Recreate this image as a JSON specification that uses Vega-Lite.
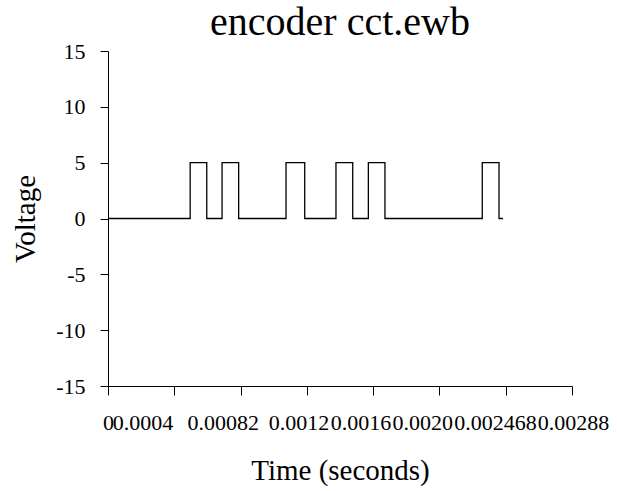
{
  "$schema": "https://vega.github.io/schema/vega-lite/v6.json",
  "width": 464,
  "height": 335,
  "autosize": "none",
  "padding": {"left": 108, "top": 51, "right": 45, "bottom": 105},
  "background": "white",
  "title": {
    "text": "encoder cct.ewb",
    "font": "Liberation Serif",
    "fontSize": 40,
    "fontWeight": "normal",
    "color": "black",
    "anchor": "middle",
    "frame": "group",
    "baseline": "alphabetic",
    "offset": -35
  },
  "data": {
    "values": [
      {"i": 0, "t": 0, "v": 0},
      {"i": 1, "t": 0.00051, "v": 0},
      {"i": 2, "t": 0.00051, "v": 5},
      {"i": 3, "t": 0.000613, "v": 5},
      {"i": 4, "t": 0.000613, "v": 0},
      {"i": 5, "t": 0.000708, "v": 0},
      {"i": 6, "t": 0.000708, "v": 5},
      {"i": 7, "t": 0.000811, "v": 5},
      {"i": 8, "t": 0.000811, "v": 0},
      {"i": 9, "t": 0.001105, "v": 0},
      {"i": 10, "t": 0.001105, "v": 5},
      {"i": 11, "t": 0.001221, "v": 5},
      {"i": 12, "t": 0.001221, "v": 0},
      {"i": 13, "t": 0.001415, "v": 0},
      {"i": 14, "t": 0.001415, "v": 5},
      {"i": 15, "t": 0.001519, "v": 5},
      {"i": 16, "t": 0.001519, "v": 0},
      {"i": 17, "t": 0.001616, "v": 0},
      {"i": 18, "t": 0.001616, "v": 5},
      {"i": 19, "t": 0.001719, "v": 5},
      {"i": 20, "t": 0.001719, "v": 0},
      {"i": 21, "t": 0.002323, "v": 0},
      {"i": 22, "t": 0.002323, "v": 5},
      {"i": 23, "t": 0.002427, "v": 5},
      {"i": 24, "t": 0.002427, "v": 0},
      {"i": 25, "t": 0.002452, "v": 0}
    ]
  },
  "mark": {"type": "line", "color": "black", "strokeWidth": 1.3},
  "encoding": {
    "x": {
      "field": "t",
      "type": "quantitative",
      "scale": {"domain": [0, 0.00288], "nice": false, "zero": false},
      "axis": {
        "values": [0, 0.000411429, 0.000822857, 0.001234286, 0.001645714, 0.002057143, 0.002468571, 0.00288],
        "labelExpr": "datum.value < 0.0002 ? '0' : datum.value < 0.0006 ? '0.0004' : datum.value < 0.001 ? '0.00082' : datum.value < 0.0014 ? '0.0012' : datum.value < 0.0018 ? '0.0016' : datum.value < 0.0022 ? '0.0020' : datum.value < 0.0027 ? '0.002468' : '0.00288'",
        "labelAlign": "left",
        "labelOffset": {
          "condition": [
            {"test": "datum.value < 0.0002", "value": -5.5},
            {"test": "datum.value < 0.0006", "value": -62},
            {"test": "datum.value < 0.001", "value": -53.5},
            {"test": "datum.value < 0.0014", "value": -38.6},
            {"test": "datum.value < 0.0018", "value": -43},
            {"test": "datum.value < 0.0022", "value": -47.5},
            {"test": "datum.value < 0.0027", "value": -52}
          ],
          "value": -34.8
        },
        "labelFont": "Liberation Serif",
        "labelFontSize": 22,
        "labelColor": "black",
        "labelBaseline": "alphabetic",
        "labelPadding": 34,
        "labelOverlap": false,
        "labelFlush": false,
        "tickSize": 9,
        "tickColor": "black",
        "domainColor": "black",
        "grid": false,
        "title": "Time (seconds)",
        "titleFont": "Liberation Serif",
        "titleFontSize": 29,
        "titleFontWeight": "normal",
        "titleColor": "black",
        "titleX": 232,
        "titleY": 93,
        "titleBaseline": "alphabetic",
        "titleAlign": "center"
      }
    },
    "y": {
      "field": "v",
      "type": "quantitative",
      "scale": {"domain": [-15, 15], "nice": false},
      "axis": {
        "values": [-15, -10, -5, 0, 5, 10, 15],
        "labelExpr": "datum.value < 0 ? '-' + abs(datum.value) : '' + datum.value",
        "labelFont": "Liberation Serif",
        "labelFontSize": 22,
        "labelColor": "black",
        "labelPadding": 15,
        "labelBaseline": "middle",
        "labelFlush": false,
        "labelOverlap": false,
        "tickSize": 8,
        "tickColor": "black",
        "domainColor": "black",
        "grid": false,
        "title": "Voltage",
        "titleFont": "Liberation Serif",
        "titleFontSize": 29,
        "titleFontWeight": "normal",
        "titleColor": "black",
        "titleX": -74,
        "titleY": 167.5,
        "titleBaseline": "alphabetic",
        "titleAlign": "center",
        "titleAngle": -90
      }
    },
    "order": {"field": "i", "type": "quantitative"}
  },
  "config": {"view": {"stroke": null}}
}
